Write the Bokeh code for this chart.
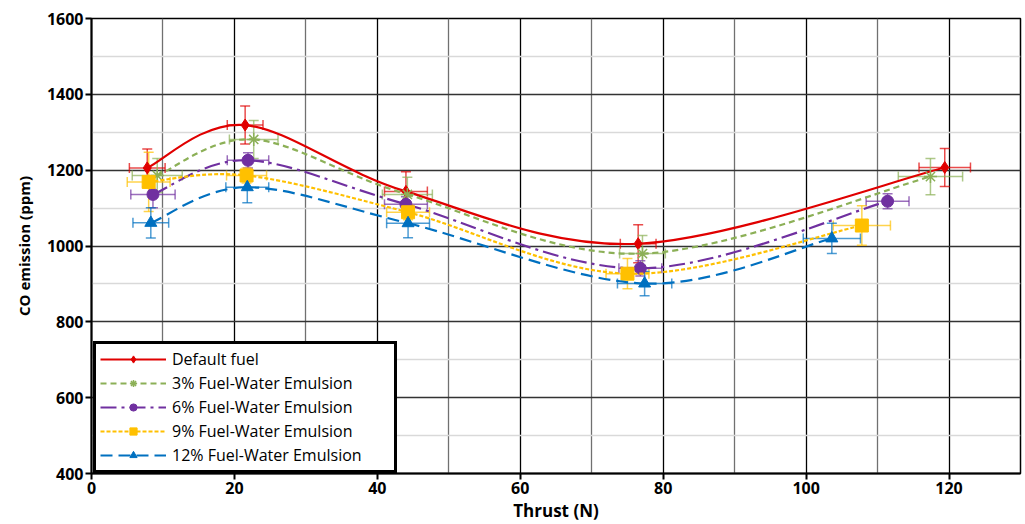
from bokeh.plotting import figure
from bokeh.models import (ColumnDataSource, Whisker, TeeHead, Legend, LegendItem,
                          FixedTicker, Range1d)
from bokeh.embed import file_html
from bokeh.resources import INLINE

# ---- data ----
series_names = ["Default fuel", "3% Fuel-Water Emulsion", "6% Fuel-Water Emulsion",
                "9% Fuel-Water Emulsion", "12% Fuel-Water Emulsion"]

x_default = [7.8, 21.5, 44.0, 76.5, 119.4]
y_default = [1206, 1319, 1144, 1006, 1207]
xerr_default = [2.5, 2.5, 3.0, 2.5, 3.6]
yerr_default = [50, 50, 52, 50, 50]

x_3 = [9.2, 22.7, 44.2, 77.1, 117.4]
y_3 = [1186, 1281, 1136, 980, 1183]
xerr_3 = [3.5, 3.4, 3.5, 3.2, 4.5]
yerr_3 = [45, 50, 45, 48, 48]

x_6 = [8.6, 21.9, 44.0, 76.8, 111.4]
y_6 = [1136, 1226, 1110, 941, 1118]
xerr_6 = [3.1, 2.9, 3.0, 3.0, 3.0]
yerr_6 = [35, 20, 20, 20, 20]

x_9 = [8.0, 21.7, 44.3, 75.0, 107.8]
y_9 = [1169, 1186, 1089, 927, 1054]
xerr_9 = [3.0, 2.8, 3.0, 3.0, 4.0]
yerr_9 = [78, 20, 20, 40, 52]

x_12 = [8.3, 21.8, 44.3, 77.4, 103.6]
y_12 = [1061, 1155, 1060, 901, 1020]
xerr_12 = [2.5, 3.0, 3.0, 3.8, 4.0]
yerr_12 = [40, 41, 38, 32, 40]

x_ticks = [0, 20, 40, 60, 80, 100, 120]
y_ticks = [400, 600, 800, 1000, 1200, 1400, 1600]

# ---- styles ----
colors = ["#E00000", "#8CB057", "#7030A0", "#FFC000", "#0070C0"]
dashes = ["solid", "6 4", "16 5 3 5", "4 2", "12 6"]
markers = ["diamond", "asterisk", "circle", "square", "triangle"]
msizes = [12, 13, 12, 13, 12]

FONT = "Open Sans"

p = figure(width=1024, height=524, output_backend="svg", toolbar_location=None,
           x_range=Range1d(0, 130), y_range=Range1d(400, 1600),
           min_border_left=91, min_border_right=4, min_border_top=18, min_border_bottom=51)

p.outline_line_color = "black"
p.outline_line_width = 1.5
p.background_fill_color = "white"

# grids
p.xaxis.ticker = FixedTicker(ticks=x_ticks, minor_ticks=[10, 30, 50, 70, 90, 110, 130])
p.yaxis.ticker = FixedTicker(ticks=y_ticks, minor_ticks=[500, 700, 900, 1100, 1300, 1500])
p.xgrid.grid_line_color = "black"
p.xgrid.grid_line_width = 1.3
p.xgrid.minor_grid_line_color = "#707070"
p.xgrid.minor_grid_line_width = 1.3
p.ygrid.grid_line_color = "#333333"
p.ygrid.grid_line_width = 1.3
p.ygrid.minor_grid_line_color = "#d9d9d9"
p.ygrid.minor_grid_line_width = 1.5

for ax in (p.xaxis[0], p.yaxis[0]):
    ax.axis_line_color = "black"
    ax.axis_line_width = 2
    ax.major_tick_line_color = "black"
    ax.major_tick_line_width = 2
    ax.major_tick_out = 6
    ax.major_tick_in = 0
    ax.minor_tick_line_color = None
    ax.major_label_text_font = FONT
    ax.major_label_text_font_style = "bold"
    ax.major_label_text_font_size = "16px"
    ax.major_label_text_color = "black"
    ax.axis_label_text_font = FONT
    ax.axis_label_text_font_style = "bold"
    ax.axis_label_text_color = "black"

p.xaxis.axis_label = "Thrust (N)"
p.yaxis.axis_label = "CO emission (ppm)"
p.xaxis.axis_label_text_font_size = "17px"
p.yaxis.axis_label_text_font_size = "15px"
p.xaxis.major_label_standoff = 2
p.xaxis.axis_label_standoff = 2
p.yaxis.major_label_standoff = 2
p.yaxis.axis_label_standoff = 10


def smooth_segments(xs, ys, t=1.0 / 6.0):
    n = len(xs)
    seg = dict(x0=[], y0=[], x1=[], y1=[], cx0=[], cy0=[], cx1=[], cy1=[])
    for i in range(n - 1):
        im1 = max(i - 1, 0)
        ip2 = min(i + 2, n - 1)
        seg["x0"].append(xs[i]); seg["y0"].append(ys[i])
        seg["x1"].append(xs[i + 1]); seg["y1"].append(ys[i + 1])
        seg["cx0"].append(xs[i] + (xs[i + 1] - xs[im1]) * t)
        seg["cy0"].append(ys[i] + (ys[i + 1] - ys[im1]) * t)
        seg["cx1"].append(xs[i + 1] - (xs[ip2] - xs[i]) * t)
        seg["cy1"].append(ys[i + 1] - (ys[ip2] - ys[i]) * t)
    return seg


all_data = [
    (x_default, y_default, xerr_default, yerr_default),
    (x_3, y_3, xerr_3, yerr_3),
    (x_6, y_6, xerr_6, yerr_6),
    (x_9, y_9, xerr_9, yerr_9),
    (x_12, y_12, xerr_12, yerr_12),
]

items = []
for k, (xs, ys, xe, ye) in enumerate(all_data):
    c = colors[k]
    src = ColumnDataSource(dict(
        x=xs, y=ys,
        xl=[a - b for a, b in zip(xs, xe)], xu=[a + b for a, b in zip(xs, xe)],
        yl=[a - b for a, b in zip(ys, ye)], yu=[a + b for a, b in zip(ys, ye)],
    ))
    wv = Whisker(source=src, base="x", lower="yl", upper="yu", dimension="height",
                 line_color=c, line_alpha=0.7, line_width=1.5,
                 upper_head=TeeHead(size=10, line_color=c, line_alpha=0.7, line_width=1.5),
                 lower_head=TeeHead(size=10, line_color=c, line_alpha=0.7, line_width=1.5))
    wh = Whisker(source=src, base="y", lower="xl", upper="xu", dimension="width",
                 line_color=c, line_alpha=0.7, line_width=1.5,
                 upper_head=TeeHead(size=10, line_color=c, line_alpha=0.7, line_width=1.5),
                 lower_head=TeeHead(size=10, line_color=c, line_alpha=0.7, line_width=1.5))
    p.add_layout(wv)
    p.add_layout(wh)
    seg = ColumnDataSource(smooth_segments(xs, ys))
    lr = p.bezier(x0="x0", y0="y0", x1="x1", y1="y1", cx0="cx0", cy0="cy0",
                  cx1="cx1", cy1="cy1", source=seg, line_color=c, line_width=2.2,
                  line_dash=dashes[k])
    if markers[k] == "asterisk":
        sr = p.scatter("x", "y", source=src, marker="asterisk", size=msizes[k],
                       line_color=c, line_width=1.5)
    else:
        sr = p.scatter("x", "y", source=src, marker=markers[k], size=msizes[k],
                       fill_color=c, line_color=c)
    items.append(LegendItem(label=series_names[k], renderers=[lr, sr]))

legend = Legend(items=items, location=(2, 0))
legend.border_line_color = "black"
legend.border_line_alpha = 1
legend.border_line_width = 3
legend.background_fill_color = "white"
legend.background_fill_alpha = 1
legend.label_text_font = FONT
legend.label_text_font_size = "16px"
legend.label_text_color = "black"
legend.glyph_width = 66
legend.glyph_height = 18
legend.label_height = 18
legend.spacing = 2
legend.padding = 4
legend.margin = 0
legend.label_standoff = 6
legend.label_width = 218
p.add_layout(legend, "center")

open("out.html", "w").write(file_html(p, INLINE))
